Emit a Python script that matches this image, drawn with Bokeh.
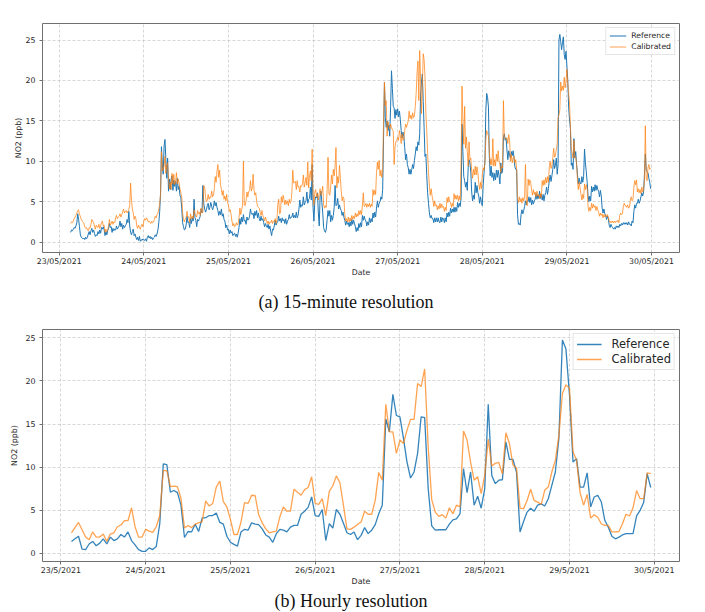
import pandas as pd
from bokeh.plotting import figure
from bokeh.layouts import column
from bokeh.models import Range1d, FixedTicker, Title
from bokeh.embed import file_html
from bokeh.resources import INLINE

# ---------------------------------------------------------------- data
day_ticks = ["2021-05-23", "2021-05-24", "2021-05-25", "2021-05-26",
             "2021-05-27", "2021-05-28", "2021-05-29", "2021-05-30"]
labels_15min = ["23/05/2021", "24/05/2021", "25/05/2021", "26/05/2021",
                "27/05/2021", "28/05/2021", "29/05/2021", "30/05/2021"]
labels_hourly = ["23/5/2021", "24/5/2021", "25/5/2021", "26/5/2021",
                 "27/5/2021", "28/5/2021", "29/5/2021", "30/5/2021"]
y_ticks = [0, 5, 10, 15, 20, 25]

start_15min = "2021-05-23 03:15"
start_hourly = "2021-05-23 03:00"

# NO2 (ppb), 15-minute samples, one row per 4 hours
ref_15min = [
    1.2, 1.5, 1.4, 1.6, 1.8, 1.7, 2.0, 2.4, 3.5, 2.8, 1.9, 0.9, 0.6, 0.5, 0.4,
    0.5, 0.3, 0.6, 0.4, 0.6, 1.0, 1.3, 0.9, 1.4, 1.7, 1.2, 1.5, 1.1, 0.7, 0.9, 0.8,
    1.3, 1.0, 1.5, 1.1, 1.8, 1.6, 1.9, 1.5, 0.8, 1.3, 0.9, 1.4, 1.7, 2.3, 1.8, 1.9,
    1.2, 1.7, 1.4, 1.6, 1.5, 2.0, 1.6, 1.8, 2.0, 2.6, 1.9, 2.3, 1.6, 2.1, 1.8, 2.0,
    2.2, 2.8, 2.4, 3.8, 2.0, 1.2, 0.9, 1.3, 1.6, 0.8, 1.0, 0.6, 0.3, 0.6, 0.2, 0.7,
    0.1, 0.3, 0.2, 0.4, 0.3, 0.2, 0.4, 0.1, 0.6, 0.8, 0.5, 0.7, 0.4, 0.6, 0.3, 0.5,
    0.6, 0.9, 0.7, 1.0, 1.5, 2.4, 3.8, 6.1, 11.8, 9.6, 8.4, 11.9, 12.7, 10.2, 7.9, 10.4,
    6.3, 7.8, 6.5, 7.8, 8.2, 6.4, 7.7, 6.9, 7.5, 6.3, 7.9, 6.5, 6.9, 5.8, 5.5, 4.2,
    2.4, 1.9, 1.5, 1.6, 2.1, 3.2, 2.4, 2.5, 1.8, 2.9, 2.3, 3.0, 2.6, 5.3, 3.0, 2.7,
    1.9, 2.8, 2.6, 2.9, 3.2, 4.1, 3.6, 7.0, 4.8, 4.1, 3.7, 4.0, 4.5, 4.8, 4.0, 4.3,
    4.9, 4.4, 4.0, 4.3, 5.1, 4.5, 4.9, 4.3, 3.9, 3.3, 3.8, 3.4, 4.1, 3.2, 3.5, 2.8,
    2.6, 1.8, 2.1, 1.5, 1.6, 1.0, 1.5, 1.1, 1.3, 0.8, 1.0, 1.1, 0.7, 1.0, 0.6, 1.1,
    1.8, 2.9, 2.2, 3.1, 2.5, 3.4, 2.6, 2.7, 2.2, 3.1, 2.7, 2.8, 3.2, 4.1, 3.5, 3.4,
    3.6, 2.9, 3.8, 3.3, 3.9, 3.0, 3.6, 2.9, 2.6, 3.2, 2.7, 2.9, 2.4, 1.9, 2.3, 2.0,
    1.8, 2.2, 1.6, 2.0, 1.3, 0.8, 1.6, 1.5, 2.0, 2.7, 2.1, 2.4, 2.5, 3.2, 2.6, 2.9,
    2.4, 3.0, 2.6, 2.8, 2.3, 2.9, 2.2, 2.6, 2.8, 3.4, 2.9, 3.1, 3.1, 3.6, 3.0, 3.3,
    3.0, 3.7, 3.0, 3.3, 4.1, 5.2, 4.3, 4.6, 4.5, 5.6, 4.6, 4.9, 5.1, 6.2, 4.8, 5.3,
    5.4, 6.8, 5.2, 9.6, 4.3, 2.6, 5.1, 5.6, 5.5, 6.1, 3.6, 2.0, 5.6, 6.3, 4.9, 3.6,
    1.8, 1.4, 1.2, 1.6, 2.8, 3.9, 3.2, 3.9, 2.5, 3.3, 2.7, 3.3, 4.3, 7.0, 4.5, 4.6,
    5.4, 4.1, 4.6, 4.1, 3.9, 3.3, 3.7, 3.1, 2.7, 2.1, 2.6, 2.2, 2.4, 1.9, 2.5, 2.0,
    2.8, 2.2, 2.7, 2.3, 1.9, 1.3, 1.8, 1.4, 2.3, 1.8, 2.4, 1.9, 3.3, 2.7, 3.2, 2.8,
    2.6, 2.0, 2.5, 2.1, 3.0, 2.4, 2.9, 2.5, 3.6, 3.0, 3.7, 3.1, 4.2, 5.1, 4.3, 4.8,
    5.0, 5.6, 5.3, 6.5, 13.0, 19.8, 15.4, 14.2, 15.0, 13.8, 14.5, 13.1, 16.8, 21.2, 19.0, 16.8,
    16.6, 15.3, 16.4, 15.7, 16.5, 15.5, 16.2, 15.2, 13.8, 12.9, 13.6, 13.1, 11.7, 10.2, 10.9, 9.6,
    9.2, 8.4, 9.0, 8.4, 9.0, 9.6, 9.1, 10.1, 10.9, 11.8, 11.3, 12.4, 12.0, 13.4, 18.2, 19.8,
    20.8, 17.4, 14.2, 10.6, 10.9, 8.2, 6.1, 4.8, 3.6, 3.0, 3.3, 2.9, 2.9, 2.4, 3.0, 2.5,
    3.0, 2.5, 3.0, 2.5, 2.4, 3.1, 2.5, 3.0, 2.9, 2.4, 3.0, 2.5, 3.6, 3.1, 3.7, 3.2,
    4.2, 3.6, 4.1, 3.7, 4.3, 3.7, 4.3, 3.8, 4.9, 4.3, 4.8, 4.4, 5.5, 14.6, 11.2, 8.1,
    7.6, 6.8, 7.4, 6.4, 9.2, 10.2, 9.8, 8.6, 6.2, 5.1, 5.8, 5.3, 7.4, 6.1, 7.0, 6.1,
    5.7, 4.8, 5.6, 4.9, 4.5, 7.0, 8.6, 9.9, 16.2, 18.4, 17.9, 16.7, 10.6, 8.2, 9.4, 8.0,
    8.6, 7.6, 8.5, 7.7, 8.9, 8.0, 8.9, 8.2, 7.2, 9.8, 8.5, 8.7, 12.9, 13.4, 12.6, 12.9,
    11.4, 10.2, 11.3, 10.7, 10.4, 11.2, 10.7, 11.3, 10.5, 9.3, 9.0, 9.0, 3.4, 2.2, 2.3, 2.1,
    3.4, 4.0, 3.5, 3.9, 4.4, 5.1, 4.6, 5.1, 5.0, 5.6, 4.9, 5.5, 4.6, 5.2, 4.7, 5.1,
    5.3, 6.0, 5.3, 5.8, 5.4, 6.3, 5.4, 5.9, 5.2, 5.9, 5.1, 5.8, 6.1, 6.8, 5.9, 6.6,
    7.6, 8.3, 7.5, 8.2, 9.0, 10.2, 9.1, 9.5, 10.4, 8.4, 9.6, 25.0, 25.7, 24.8, 23.8, 24.7,
    25.4, 23.2, 22.6, 23.6, 21.8, 20.0, 16.7, 15.1, 14.1, 9.5, 9.8, 9.0, 12.8, 10.4, 11.2, 9.6,
    8.4, 7.2, 7.9, 7.3, 7.2, 8.1, 7.4, 8.1, 11.5, 9.8, 8.7, 7.4, 5.8, 5.0, 5.7, 5.1,
    6.9, 6.2, 6.8, 6.3, 7.1, 6.4, 7.0, 6.5, 6.3, 5.6, 6.4, 5.7, 4.2, 3.6, 4.1, 3.5,
    3.3, 2.8, 3.2, 2.9, 2.1, 1.8, 2.2, 1.9, 1.8, 1.6, 1.8, 1.6, 2.0, 1.8, 2.0, 1.8,
    2.2, 2.0, 2.3, 2.1, 2.4, 2.2, 2.4, 2.2, 2.4, 2.1, 2.5, 2.2, 2.2, 2.0, 2.6, 2.4,
    3.8, 4.6, 4.2, 4.8, 4.8, 5.3, 4.8, 5.1, 5.6, 6.1, 5.7, 6.2, 8.4, 10.9, 9.0, 8.7,
    8.6, 7.9, 7.4, 6.6,
]
cal_15min = [
    2.3, 2.5, 2.4, 2.6, 2.9, 3.1, 3.3, 3.6, 3.9, 4.0, 3.4, 3.2, 2.8, 2.6, 2.5,
    2.3, 1.9, 1.7, 1.8, 1.5, 1.4, 1.8, 1.7, 2.2, 2.8, 2.6, 2.4, 2.0, 1.6, 2.1, 1.9,
    1.8, 2.2, 1.7, 2.0, 2.4, 2.6, 2.0, 2.1, 1.2, 1.6, 1.3, 1.5, 2.0, 2.8, 2.1, 2.3,
    2.6, 2.2, 2.5, 2.4, 3.0, 3.3, 2.9, 3.1, 3.2, 3.5, 3.1, 3.4, 3.7, 4.1, 3.6, 3.8,
    3.9, 3.6, 3.8, 4.0, 4.6, 7.3, 5.2, 4.1, 3.6, 2.8, 3.2, 2.9, 2.0, 1.7, 2.1, 1.8,
    1.6, 2.0, 2.2, 1.9, 2.6, 2.9, 2.7, 3.0, 2.8, 2.5, 2.6, 2.4, 2.3, 2.6, 2.4, 2.5,
    2.8, 3.2, 3.0, 3.4, 3.6, 4.1, 4.8, 5.9, 11.2, 8.8, 9.0, 9.4, 10.6, 8.5, 9.5, 9.8,
    7.9, 6.6, 7.4, 6.5, 8.5, 7.2, 8.4, 7.1, 7.4, 8.6, 7.2, 7.8, 7.3, 6.6, 6.1, 5.6,
    3.6, 2.8, 2.5, 2.9, 3.0, 3.8, 3.1, 3.1, 2.4, 3.5, 2.9, 3.2, 2.9, 4.0, 3.4, 3.3,
    3.1, 3.9, 3.5, 3.7, 3.3, 4.2, 3.6, 3.7, 7.0, 6.8, 5.6, 5.0, 5.2, 5.9, 5.3, 5.6,
    5.5, 6.3, 5.6, 5.8, 6.6, 8.1, 7.4, 8.7, 9.6, 8.0, 8.9, 7.1, 6.5, 5.8, 6.4, 5.3,
    5.7, 5.1, 5.9, 4.9, 4.6, 3.8, 4.0, 3.4, 2.6, 2.0, 2.3, 1.9, 2.0, 2.4, 2.1, 2.3,
    3.0, 4.2, 3.4, 4.0, 4.5, 10.0, 4.6, 4.5, 5.1, 6.2, 5.6, 6.3, 6.4, 7.6, 6.3, 6.7,
    8.4, 6.5, 5.8, 6.1, 5.1, 4.4, 4.3, 4.2, 3.7, 3.3, 3.9, 3.3, 3.0, 2.6, 3.1, 2.7,
    2.3, 2.6, 2.2, 2.5, 2.4, 2.7, 2.3, 2.6, 2.5, 2.9, 2.3, 2.7, 4.6, 5.3, 3.5, 3.6,
    5.6, 4.9, 5.8, 5.3, 4.6, 5.2, 4.7, 5.1, 4.5, 5.3, 4.8, 5.0, 6.2, 8.9, 7.3, 7.4,
    7.5, 6.5, 7.6, 6.8, 6.9, 6.2, 7.0, 6.9, 7.2, 8.3, 6.8, 7.3, 8.0, 7.0, 9.9, 6.7,
    8.2, 8.8, 7.6, 11.5, 5.9, 4.6, 6.2, 6.5, 5.6, 6.0, 5.2, 6.0, 6.6, 5.8, 6.1, 6.9,
    4.6, 4.2, 4.5, 4.3, 6.5, 10.5, 6.0, 5.8, 6.9, 8.3, 7.2, 9.0, 8.2, 9.4, 11.7, 6.7,
    8.1, 7.3, 9.5, 7.9, 6.3, 5.1, 5.6, 5.4, 3.4, 2.6, 2.9, 2.5, 3.1, 2.5, 3.0, 2.6,
    3.3, 2.8, 3.2, 2.9, 3.6, 3.1, 3.5, 3.2, 3.9, 3.4, 3.9, 3.4, 4.6, 6.1, 4.4, 4.5,
    4.8, 4.3, 4.7, 4.4, 4.8, 4.3, 4.7, 4.4, 6.5, 5.8, 6.4, 5.9, 8.6, 9.9, 9.0, 10.1,
    8.2, 8.9, 8.0, 8.9, 15.0, 19.8, 16.9, 17.5, 13.1, 14.9, 14.4, 14.0, 14.6, 14.2, 13.9, 13.7,
    9.6, 11.8, 12.4, 12.6, 13.0, 12.6, 13.8, 13.2, 12.2, 13.4, 12.6, 12.8, 13.8, 14.6, 14.2, 14.6,
    15.0, 16.2, 15.3, 15.7, 15.2, 16.0, 15.4, 15.6, 16.8, 18.4, 20.9, 22.4, 17.5, 23.7, 20.3, 15.9,
    19.2, 23.3, 22.6, 20.5, 16.0, 13.8, 11.0, 8.6, 6.9, 5.8, 6.6, 5.7, 5.2, 4.4, 5.1, 4.5,
    4.6, 4.0, 4.5, 4.1, 4.8, 4.2, 4.7, 4.3, 4.4, 3.8, 4.3, 3.9, 5.5, 4.9, 5.6, 5.0,
    4.9, 4.3, 4.8, 4.4, 6.0, 5.3, 5.8, 5.3, 5.8, 5.1, 5.7, 5.2, 10.4, 19.3, 15.0, 12.1,
    16.8, 11.6, 13.0, 11.2, 9.4, 12.4, 10.2, 10.4, 8.8, 7.9, 9.0, 8.3, 9.4, 8.3, 9.3, 8.6,
    7.3, 6.5, 7.4, 6.6, 8.3, 9.2, 8.9, 9.8, 12.6, 13.8, 13.4, 13.2, 11.2, 9.6, 10.3, 9.5,
    12.8, 9.4, 10.2, 9.4, 10.9, 10.0, 11.3, 10.0, 9.6, 8.6, 9.4, 9.2, 17.5, 13.0, 12.8, 12.7,
    12.9, 12.2, 13.3, 12.6, 10.0, 10.8, 9.8, 10.4, 10.6, 9.8, 10.2, 9.0, 5.5, 4.9, 5.6, 5.0,
    5.4, 4.8, 5.5, 5.1, 5.6, 9.6, 4.9, 4.5, 7.8, 7.0, 7.7, 7.3, 6.4, 5.8, 6.5, 5.9,
    6.2, 5.6, 6.3, 5.7, 5.9, 5.4, 6.0, 5.5, 7.6, 7.0, 7.7, 7.1, 8.0, 7.3, 8.1, 7.4,
    9.2, 10.0, 9.1, 9.5, 10.4, 11.6, 10.5, 10.7, 11.5, 12.2, 15.4, 15.7, 16.4, 19.8, 18.7, 19.3,
    18.8, 20.4, 19.1, 19.9, 21.4, 19.6, 18.5, 17.1, 14.3, 11.5, 11.0, 10.4, 12.6, 10.4, 10.5, 9.7,
    7.6, 6.5, 7.4, 6.7, 5.9, 5.2, 5.9, 5.4, 7.2, 6.5, 7.1, 6.6, 4.4, 3.8, 4.3, 3.9,
    4.8, 4.2, 4.7, 4.3, 4.5, 3.9, 4.4, 4.0, 3.7, 3.2, 3.6, 3.3, 3.5, 3.0, 3.4, 3.1,
    3.4, 3.1, 3.4, 3.1, 2.6, 2.4, 2.6, 2.4, 2.6, 2.4, 2.6, 2.4, 2.6, 2.5, 2.7, 2.4,
    3.3, 3.6, 3.4, 3.5, 4.4, 4.8, 4.5, 4.5, 4.3, 4.6, 4.2, 4.3, 5.2, 5.6, 5.1, 5.3,
    6.8, 7.6, 7.1, 7.7, 6.2, 6.6, 6.1, 6.5, 6.0, 6.8, 6.2, 6.4, 7.5, 14.4, 7.9, 7.6,
    9.2, 9.6, 9.0, 9.2,
]

# NO2 (ppb), hourly means, one row per 16 hours
ref_hourly = [
    1.4, 1.7, 2.0, 0.5, 0.45, 1.1, 1.4, 0.9, 1.2, 1.7, 1.1, 1.9, 1.5, 1.7, 2.2, 1.9,
    2.5, 1.5, 1.0, 0.45, 0.25, 0.25, 0.65, 0.45, 0.8, 3.45, 10.4, 10.3, 7.1, 7.3, 7.05, 5.6,
    1.85, 2.55, 2.5, 3.4, 2.55, 4.1, 4.15, 4.4, 4.4, 4.7, 3.6, 3.4, 2.0, 1.3, 1.05, 0.85,
    2.5, 2.8, 2.7, 3.55, 3.4, 3.35, 2.85, 2.15, 1.9, 1.3, 2.3, 2.8, 2.7, 2.5, 3.05, 3.25,
    3.25, 4.55, 4.9, 5.35, 6.55, 4.4, 4.3, 5.1, 1.5, 3.45, 2.95, 5.1, 4.55, 3.5, 2.4, 2.2,
    2.5, 1.6, 2.1, 3.0, 2.3, 2.7, 3.35, 4.6, 5.6, 15.6, 14.1, 18.45, 16.0, 15.85, 13.35, 10.6,
    8.75, 9.45, 11.6, 15.85, 15.75, 7.5, 3.2, 2.7, 2.75, 2.75, 2.75, 3.4, 3.9, 4.0, 4.6, 9.85,
    7.05, 9.45, 5.6, 6.65, 5.25, 7.5, 17.3, 9.05, 8.1, 8.5, 8.55, 12.95, 10.9, 10.9, 9.45, 2.5,
    3.7, 4.8, 5.25, 4.9, 5.6, 5.75, 5.5, 6.35, 7.9, 9.45, 13.35, 24.75, 23.7, 18.4, 10.6, 11.0,
    7.7, 7.7, 9.35, 5.4, 6.55, 6.75, 6.0, 3.85, 3.05, 2.0, 1.7, 1.9, 2.15, 2.3, 2.3, 2.3,
    4.35, 5.0, 5.9, 9.25, 7.65,
]
cal_hourly = [
    2.4, 3.0, 3.6, 2.75, 1.9, 1.6, 2.5, 1.9, 1.9, 2.25, 1.4, 2.25, 2.4, 3.1, 3.3, 3.8,
    3.8, 5.3, 3.1, 1.9, 1.9, 2.8, 2.6, 2.45, 3.1, 4.4, 9.6, 9.6, 7.75, 7.8, 7.75, 6.4,
    2.95, 3.25, 3.0, 3.4, 3.55, 3.7, 6.1, 5.5, 5.8, 7.7, 8.4, 6.0, 5.4, 3.95, 2.2, 2.2,
    3.65, 5.9, 5.8, 6.75, 6.7, 4.5, 3.55, 2.85, 2.4, 2.5, 2.6, 4.25, 5.4, 4.9, 4.9, 7.45,
    7.1, 6.75, 7.4, 7.65, 8.9, 5.8, 5.7, 6.35, 4.4, 7.2, 7.85, 9.0, 8.2, 5.6, 2.85, 2.8,
    3.05, 3.35, 3.65, 4.9, 4.55, 4.55, 6.15, 9.4, 8.5, 17.3, 14.1, 14.1, 11.6, 13.15, 12.75, 14.3,
    15.55, 15.55, 19.7, 19.35, 21.4, 12.35, 6.25, 4.8, 4.3, 4.5, 4.1, 5.3, 4.6, 5.6, 5.4, 14.2,
    13.15, 10.6, 8.5, 8.9, 6.95, 9.05, 13.25, 10.15, 10.45, 10.55, 9.2, 14.0, 12.75, 10.25, 9.9, 5.25,
    5.2, 6.15, 7.45, 6.15, 5.95, 5.7, 7.35, 7.7, 9.45, 10.8, 13.7, 18.55, 19.55, 19.15, 11.8, 10.8,
    7.05, 5.6, 6.85, 4.1, 4.5, 4.2, 3.45, 3.25, 3.25, 2.5, 2.5, 2.55, 3.45, 4.55, 4.35, 5.3,
    7.3, 6.35, 6.35, 9.35, 9.25,
]

BLUE = "#1f77b4"
ORANGE = "#ff7f0e"
TEXT = "#262626"
FRAME = "#707070"


def ms(ts):
    return pd.Timestamp(ts).value / 1e6


tick_ms = [ms(d) for d in day_ticks]
HOUR = 3600 * 1000.0


def style(p, tick_labels, tick_size, ylabel_standoff):
    p.outline_line_color = FRAME
    p.outline_line_width = 1
    p.background_fill_color = "white"
    p.border_fill_color = "white"
    for ax in (p.xaxis[0], p.yaxis[0]):
        ax.axis_line_color = None
        ax.major_tick_line_color = FRAME
        ax.major_tick_in = 0
        ax.major_tick_out = 3
        ax.minor_tick_line_color = None
        ax.major_label_text_font = "DejaVu Sans"
        ax.major_label_text_font_size = tick_size
        ax.major_label_text_color = TEXT
        ax.axis_label_text_font = "DejaVu Sans"
        ax.axis_label_text_font_size = tick_size
        ax.axis_label_text_font_style = "normal"
        ax.axis_label_text_color = TEXT
    p.xaxis.ticker = FixedTicker(ticks=tick_ms)
    p.xaxis.major_label_overrides = dict(zip(tick_ms, tick_labels))
    p.yaxis.ticker = FixedTicker(ticks=y_ticks)
    p.xaxis.axis_label = "Date"
    p.yaxis.axis_label = "NO2 (ppb)"
    p.xaxis.major_label_standoff = 1
    p.xaxis.axis_label_standoff = -1
    p.yaxis.major_label_standoff = 4
    p.yaxis.axis_label_standoff = ylabel_standoff
    for g in (p.xgrid[0], p.ygrid[0]):
        g.grid_line_color = "#b8b8b8"
        g.grid_line_alpha = 0.7
        g.grid_line_dash = "3 2"
        g.grid_line_width = 0.8


def style_legend(lg, font_size, row_h, glyph_w, standoff, spacing):
    lg.location = "top_right"
    lg.margin = 4
    lg.padding = 3
    lg.spacing = spacing
    lg.label_text_font = "DejaVu Sans"
    lg.label_text_font_size = font_size
    lg.label_text_color = TEXT
    lg.label_height = row_h
    lg.glyph_height = row_h
    lg.glyph_width = glyph_w
    lg.label_standoff = standoff
    lg.border_line_color = "#cccccc"
    lg.background_fill_alpha = 0.85


# ---------------------------------------------------------------- (a) 15-minute
t15 = pd.date_range(start_15min, periods=len(ref_15min), freq="15min")
x0 = ms(day_ticks[0]) - 4.74 * HOUR
x1 = ms(day_ticks[-1]) + 7.94 * HOUR

p1 = figure(width=705, height=324, x_axis_type="datetime", title=None,
            output_backend="svg", toolbar_location=None,
            x_range=Range1d(x0, x1), y_range=Range1d(-1.29, 27.05),
            min_border_left=42, min_border_right=26,
            min_border_top=23, min_border_bottom=72)
style(p1, labels_15min, "7.8px", 0)
p1.line(t15, ref_15min, color=BLUE, line_width=1.0, legend_label="Reference")
p1.line(t15, cal_15min, color=ORANGE, line_width=1.0, line_alpha=0.72,
        legend_label="Calibrated")
style_legend(p1.legend[0], "7.7px", 9, 17, 5, 2)

p1.add_layout(Title(text="(a) 15-minute resolution", align="left", offset=216,
                    standoff=21,
                    text_font="Liberation Serif", text_font_size="18px",
                    text_font_style="normal", text_color="#111111"), "below")

# ---------------------------------------------------------------- (b) hourly
th = pd.date_range(start_hourly, periods=len(ref_hourly), freq="h")
x0b = ms(day_ticks[0]) - 5.2 * HOUR
x1b = ms(day_ticks[-1]) + 7.15 * HOUR

p2 = figure(width=705, height=288, x_axis_type="datetime", title=None,
            output_backend="svg", toolbar_location=None,
            x_range=Range1d(x0b, x1b), y_range=Range1d(-0.93, 25.97),
            min_border_left=37, min_border_right=23,
            min_border_top=5, min_border_bottom=51)
style(p2, labels_hourly, "7.9px", 3)
p2.line(th, ref_hourly, color=BLUE, line_width=1.3, line_alpha=0.9,
        legend_label="Reference")
p2.line(th, cal_hourly, color=ORANGE, line_width=1.3, line_alpha=0.72,
        legend_label="Calibrated")
style_legend(p2.legend[0], "11.5px", 12, 25, 10, 1)

# tight caption so the frame keeps its full height
p2.add_layout(Title(text="(b) Hourly resolution", align="left", offset=232,
                    standoff=0,
                    text_font="Liberation Serif", text_font_size="18px",
                    text_font_style="normal", text_color="#111111"), "below")

layout = column(p1, p2)
open("out.html", "w").write(file_html(layout, INLINE))
